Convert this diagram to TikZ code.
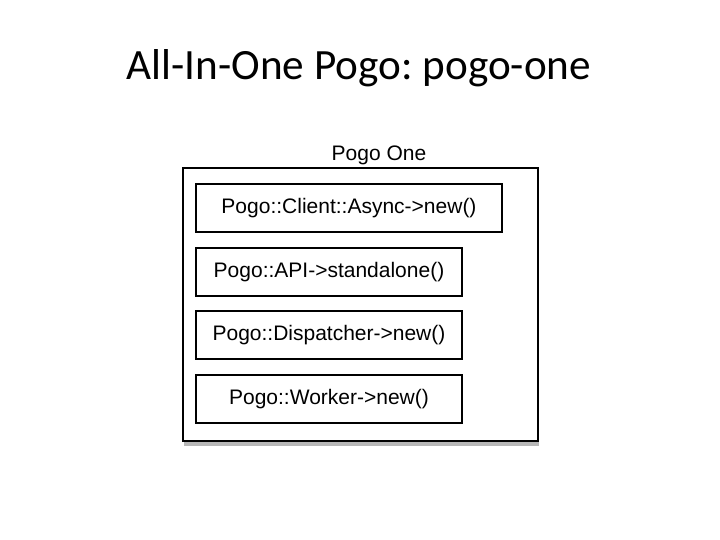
\documentclass[tikz,border=0pt]{standalone}
\usepackage{fontspec}
\setmainfont{Carlito}
\newfontfamily\boxfont{Liberation Sans}
\usetikzlibrary{shadows}
\frenchspacing

\begin{document}
\begin{tikzpicture}
  [x=0.5pt,y=-0.5pt]
      \tikzstyle{call_style} = [draw=black, line width=0.7pt, inner sep=0pt, font=\boxfont\fontsize{10.5}{12}\selectfont, minimum height=24pt]
      \tikzstyle{frame_style} = [draw=black, line width=1pt, fill=white, minimum width=177.5pt, minimum height=136.5pt, drop shadow={shadow xshift=0.6pt, shadow yshift=-2.5pt, opacity=0.4, fill=black!70}]
  \useasboundingbox (0,0) rectangle (720,540);
  \node[anchor=base, font=\fontsize{21.6}{26}\selectfont] (title) at (359,80) {All-In-One Pogo: pogo-one};
  \node[frame_style] (pogoone) at (360.5,304.5) {};
  \node[font=\boxfont\fontsize{10.5}{12}\selectfont] (label) at (379,155) {Pogo One};
  \node[call_style, minimum width=153pt] (client) at (349,208) {Pogo::Client::Async->new()};
  \node[call_style, minimum width=133pt] (api) at (329,272) {Pogo::API->standalone()};
  \node[call_style, minimum width=133pt] (dispatcher) at (329,335) {Pogo::Dispatcher->new()};
  \node[call_style, minimum width=133pt] (worker) at (329,399) {Pogo::Worker->new()};
\end{tikzpicture}
\end{document}
